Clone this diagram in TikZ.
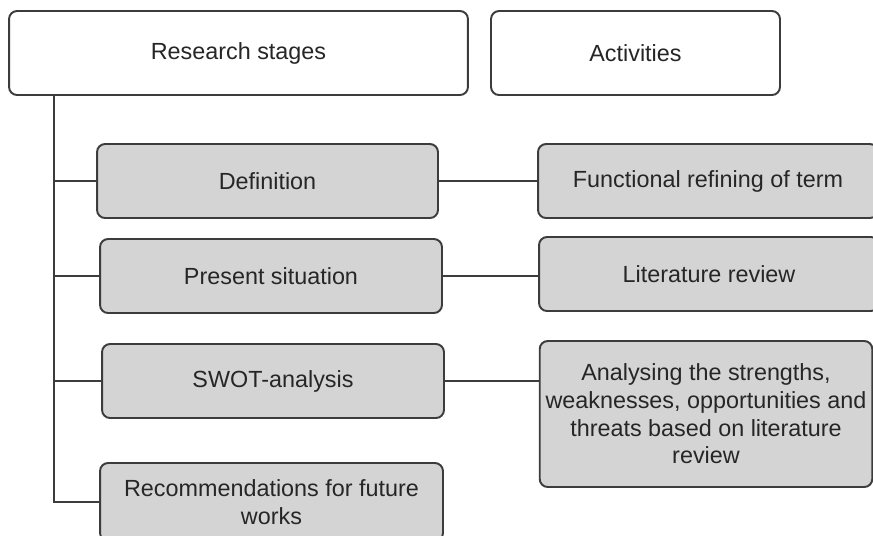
\documentclass[tikz,border=0pt]{standalone}
\usepackage{fontspec}
\setmainfont{Liberation Sans}
\usetikzlibrary{calc}

\definecolor{boxline}{HTML}{3C3C3C}
\definecolor{boxfill}{HTML}{D4D4D4}
\definecolor{boxtext}{HTML}{262626}

\begin{document}
\begin{tikzpicture}[x=0.02cm, y=-0.02cm,
    stage/.style={rectangle, rounded corners=0.16cm, draw=boxline, line width=1.1pt,
      text=boxtext, align=center, font=\fontsize{13.3}{15.7}\selectfont},
    head/.style={stage, fill=white, minimum height=1.68cm},
    item/.style={stage, fill=boxfill, minimum height=1.48cm},
    link/.style={draw=boxline, line width=1pt}]
  \useasboundingbox (0,0) rectangle (873,535);
  \clip (0,0) rectangle (873,535);
  \node[head, minimum width=9.18cm] (stages) at (238.5,53) {Research stages};
  \node[head, minimum width=5.78cm] (acts) at (635.5,53) {Activities};
  \node[item, minimum width=6.82cm] (def) at (267.5,181) {Definition};
  \node[item, minimum width=6.80cm] (func) at (708,181) {Functional refining of term};
  \node[item, minimum width=6.84cm] (pres) at (271,276) {Present situation};
  \node[item, minimum width=6.80cm] (lit) at (709,274) {Literature review};
  \node[item, minimum width=6.84cm] (swot) at (273,381) {SWOT-analysis};
  \node[item, minimum width=6.64cm, minimum height=2.92cm] (ana) at (706,414)
    {Analysing the strengths,\\ weaknesses, opportunities and\\ threats based on literature\\ review};
  \node[item, minimum width=6.86cm, minimum height=1.56cm] (rec) at (271.5,502) {Recommendations for future\\ works};
  \coordinate (trunk) at (54,95);
  \draw[link] (trunk) |- (rec.west);
  \draw[link] (trunk |- def.west) -- (def.west);
  \draw[link] (trunk |- pres.west) -- (pres.west);
  \draw[link] (trunk |- swot.west) -- (swot.west);
  \draw[link] (def.east) -- (def.east -| func.west);
  \draw[link] (pres.east) -- (pres.east -| lit.west);
  \draw[link] (swot.east) -- (swot.east -| ana.west);
\end{tikzpicture}
\end{document}
